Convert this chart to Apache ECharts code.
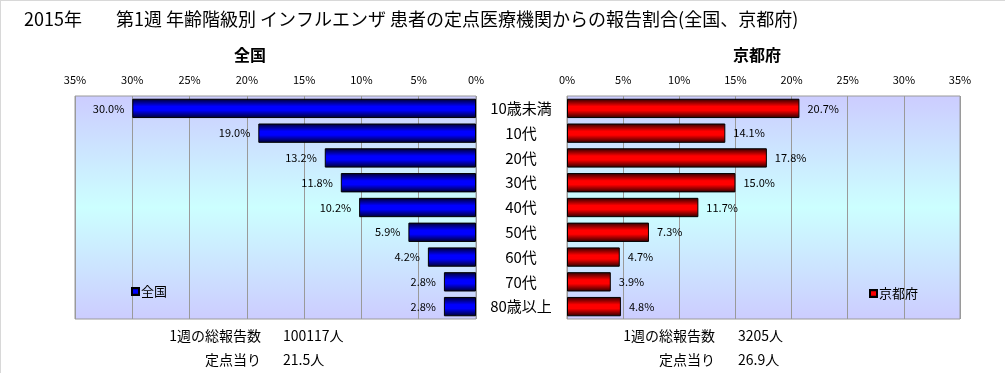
<!DOCTYPE html>
<html>
<head>
<meta charset="utf-8">
<script src="https://cdn.jsdelivr.net/npm/echarts@6/dist/echarts.min.js"></script>
<style>
html,body{margin:0;padding:0;background:#fff;}
#frame{position:absolute;left:0;top:0;width:1005px;height:373px;border-top:1px solid #d8d8d8;border-left:1px solid #d8d8d8;box-sizing:border-box;}
#chart{position:absolute;left:0;top:0;width:1006px;height:373px;}
</style>
</head>
<body>
<div id="chart"></div>
<div id="frame"></div>
<script>
const categories = ['10歳未満','10代','20代','30代','40代','50代','60代','70代','80歳以上'];
const nationalValues = [30.0, 19.0, 13.2, 11.8, 10.2, 5.9, 4.2, 2.8, 2.8];
const kyotoValues = [20.7, 14.1, 17.8, 15.0, 11.7, 7.3, 4.7, 3.9, 4.8];
const axisMin = 0, axisMax = 35, axisStep = 5;
const titleYear = '2015年';
const titleMain = '第1週 年齢階級別 インフルエンザ 患者の定点医療機関からの報告割合(全国、京都府)';
const nationalName = '全国';
const kyotoName = '京都府';
const nationalTotal = '100117人';
const nationalPerSite = '21.5人';
const kyotoTotal = '3205人';
const kyotoPerSite = '26.9人';
const totalLabel = '1週の総報告数';
const perSiteLabel = '定点当り';

const FONT = '"Noto Sans CJK JP", "Noto Sans", sans-serif';
const chart = echarts.init(document.getElementById('chart'), null, {renderer: 'canvas'});

const bgGrad = new echarts.graphic.LinearGradient(0, 0, 0, 1, [
  {offset: 0, color: '#ccccff'},
  {offset: 0.5, color: '#ccffff'},
  {offset: 1, color: '#ccccff'}
]);
function barGrad(dark, bright) {
  return new echarts.graphic.LinearGradient(0, 0, 0, 1, [
    {offset: 0, color: dark},
    {offset: 0.4, color: bright},
    {offset: 0.6, color: bright},
    {offset: 1, color: dark}
  ]);
}
const pct = p => p.value.toFixed(1) + '%';

const commonX = {
  type: 'value', min: axisMin, max: axisMax, interval: axisStep, position: 'top',
  axisLine: {show: false}, axisTick: {show: false},
  axisLabel: {formatter: '{value}%', fontSize: 11, color: '#000', fontFamily: FONT, margin: 11},
  splitLine: {show: true, lineStyle: {color: '#9a9a9a', width: 1}}
};

chart.setOption({
  animation: false,
  textStyle: {fontFamily: FONT},
  title: [
    {text: titleYear, left: 19, top: 5, textStyle: {fontSize: 18, fontWeight: 'normal', color: '#000', fontFamily: FONT}},
    {text: titleMain, left: 111, top: 5, textStyle: {fontSize: 18, fontWeight: 'normal', color: '#000', fontFamily: FONT}},
    {text: nationalName, left: 245, top: 42, textAlign: 'center', textStyle: {fontSize: 16, fontWeight: 'bold', color: '#000', fontFamily: FONT}},
    {text: kyotoName, left: 752, top: 42, textAlign: 'center', textStyle: {fontSize: 16, fontWeight: 'bold', color: '#000', fontFamily: FONT}}
  ],
  legend: [
    {data: [nationalName], left: 126, top: 280, icon: 'rect', itemWidth: 7, itemHeight: 7, itemGap: 2,
     textStyle: {fontSize: 13, color: '#000', fontFamily: FONT, padding: [0,0,0,-3]}},
    {data: [kyotoName], left: 864, top: 282, icon: 'rect', itemWidth: 7, itemHeight: 7, itemGap: 2,
     textStyle: {fontSize: 13, color: '#000', fontFamily: FONT, padding: [0,0,0,-3]}}
  ],
  grid: [
    {left: 75, top: 96, width: 401, height: 223, show: true, backgroundColor: bgGrad, borderColor: '#9a9a9a', borderWidth: 1},
    {left: 567, top: 96, width: 393, height: 223, show: true, backgroundColor: bgGrad, borderColor: '#9a9a9a', borderWidth: 1}
  ],
  xAxis: [
    Object.assign({}, commonX, {gridIndex: 0, inverse: true}),
    Object.assign({}, commonX, {gridIndex: 1})
  ],
  yAxis: [
    {type: 'category', gridIndex: 0, data: categories, inverse: true, position: 'right',
     axisLine: {show: false}, axisTick: {show: false}, axisLabel: {show: false}, splitLine: {show: false}},
    {type: 'category', gridIndex: 1, data: categories, inverse: true, position: 'left',
     axisLine: {show: false}, axisTick: {show: false}, splitLine: {show: false},
     axisLabel: {show: true, align: 'center', margin: 46, fontSize: 15, color: '#000', fontFamily: FONT}}
  ],
  series: [
    {name: nationalName, type: 'bar', xAxisIndex: 0, yAxisIndex: 0, data: nationalValues,
     barCategoryGap: '22%',
     itemStyle: {color: barGrad('#00002a', '#0000ff'), borderColor: '#000', borderWidth: 1},
     label: {show: true, position: 'left', distance: 8, formatter: pct, fontSize: 11, color: '#000', fontFamily: FONT}},
    {name: kyotoName, type: 'bar', xAxisIndex: 1, yAxisIndex: 1, data: kyotoValues,
     barCategoryGap: '22%',
     itemStyle: {color: barGrad('#2a0000', '#ff0000'), borderColor: '#000', borderWidth: 1},
     label: {show: true, position: 'right', distance: 8, formatter: pct, fontSize: 11, color: '#000', fontFamily: FONT}}
  ],
  graphic: [
    {type: 'text', x: 261, y: 336, style: {text: totalLabel, align: 'right', verticalAlign: 'middle', fontSize: 14, fill: '#000', fontFamily: FONT}},
    {type: 'text', x: 283, y: 336, style: {text: nationalTotal, align: 'left', verticalAlign: 'middle', fontSize: 14, fill: '#000', fontFamily: FONT}},
    {type: 'text', x: 261, y: 360, style: {text: perSiteLabel, align: 'right', verticalAlign: 'middle', fontSize: 14, fill: '#000', fontFamily: FONT}},
    {type: 'text', x: 283, y: 360, style: {text: nationalPerSite, align: 'left', verticalAlign: 'middle', fontSize: 14, fill: '#000', fontFamily: FONT}},
    {type: 'text', x: 715, y: 336, style: {text: totalLabel, align: 'right', verticalAlign: 'middle', fontSize: 14, fill: '#000', fontFamily: FONT}},
    {type: 'text', x: 738, y: 336, style: {text: kyotoTotal, align: 'left', verticalAlign: 'middle', fontSize: 14, fill: '#000', fontFamily: FONT}},
    {type: 'text', x: 715, y: 360, style: {text: perSiteLabel, align: 'right', verticalAlign: 'middle', fontSize: 14, fill: '#000', fontFamily: FONT}},
    {type: 'text', x: 738, y: 360, style: {text: kyotoPerSite, align: 'left', verticalAlign: 'middle', fontSize: 14, fill: '#000', fontFamily: FONT}}
  ]
});
</script>
</body>
</html>
